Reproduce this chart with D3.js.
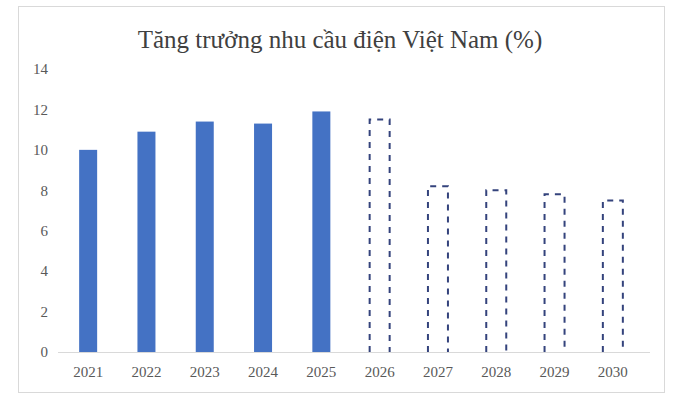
<!DOCTYPE html>
<html>
<head>
<meta charset="utf-8">
<script src="https://cdn.jsdelivr.net/npm/d3@7"></script>
<style>
  body { margin: 0; background: #fff; }
  svg { display: block; }
</style>
</head>
<body>
<svg id="chart" width="680" height="408"></svg>
<script>
// số liệu
const years = ['2021','2022','2023','2024','2025','2026','2027','2028','2029','2030']
const actual = [10.0, 10.9, 11.4, 11.3, 11.9, null, null, null, null, null]
const forecast = [null, null, null, null, null, 11.5, 8.2, 8.0, 7.8, 7.5]
const yTicks = [0, 2, 4, 6, 8, 10, 12, 14]
const title = 'Tăng trưởng nhu cầu điện Việt Nam (%)'

let svg = d3.select('#chart')

// khung ngoài
svg.append('rect')
  .attr('x', 18.5).attr('y', 6.5)
  .attr('width', 646).attr('height', 386)
  .attr('fill', '#fff')
  .attr('stroke', '#d9d9d9')

svg.append('text')
  .attr('x', 340).attr('y', 48)
  .attr('text-anchor', 'middle')
  .attr('font-family', 'Liberation Serif, serif')
  .attr('font-size', 25)
  .attr('fill', '#404040')
  .text(title)

let x = d3.scaleBand()
  .domain(years)
  .range([59, 642])

let y = d3.scaleLinear()
  .domain([0, 14])
  .range([352, 69])

// trục y (chỉ có nhãn)
let yAxis = svg.append('g')
  .attr('transform', 'translate(48,0)')
  .call(d3.axisLeft(y).tickValues(yTicks).tickSize(0).tickPadding(0))
yAxis.select('.domain').remove()
yAxis.selectAll('text')
  .attr('font-family', 'Liberation Serif, serif')
  .attr('font-size', 15)
  .attr('fill', '#595959')

// đường nền
svg.append('line')
  .attr('x1', 58).attr('x2', 650)
  .attr('y1', y(0) + 0.5).attr('y2', y(0) + 0.5)
  .attr('stroke', '#d9d9d9')

let xAxis = svg.append('g')
  .attr('transform', `translate(0,${y(0)})`)
  .call(d3.axisBottom(x).tickSize(0).tickPadding(14))
xAxis.select('.domain').remove()
xAxis.selectAll('text')
  .attr('font-family', 'Liberation Serif, serif')
  .attr('font-size', 15)
  .attr('fill', '#595959')

let actualData = years.map((yr, i) => ({year: yr, value: actual[i]})).filter(d => d.value != null)
let forecastData = years.map((yr, i) => ({year: yr, value: forecast[i]})).filter(d => d.value != null)

svg.append('g').selectAll('rect')
  .data(actualData)
  .join('rect')
  .attr('x', d => x(d.year) + x.bandwidth() / 2 - 9)
  .attr('width', 18)
  .attr('y', d => y(d.value))
  .attr('height', d => y(0) - y(d.value))
  .attr('fill', '#4472c4')

// cột dự báo: viền nét đứt, không có cạnh đáy
svg.append('g').selectAll('path')
  .data(forecastData)
  .join('path')
  .attr('d', d => {
    let x0 = x(d.year) + x.bandwidth() / 2 - 10
    let x1 = x0 + 20
    return `M${x0},${y(0)}V${y(d.value)}H${x1}V${y(0)}`
  })
  .attr('fill', 'none')
  .attr('stroke', '#34437c')
  .attr('stroke-width', 2)
  .attr('stroke-dasharray', '6,6')
</script>
</body>
</html>
